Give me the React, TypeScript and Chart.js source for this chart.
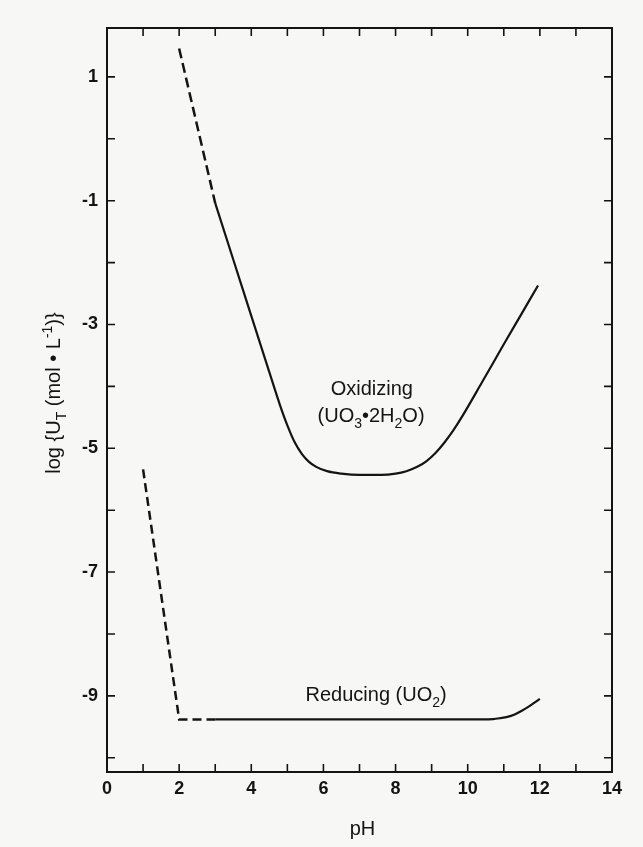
import React, { useEffect, useRef } from 'react';
import { Chart, registerables } from 'chart.js';

Chart.register(...registerables);

// ---- data ----
const oxidizingDashedPH = [2.0, 3.0];
const oxidizingDashedLogU = [1.46, -1.04];

const oxidizingPH = [3.0, 3.5, 4.0, 4.5, 4.8, 5.0, 5.2, 5.4, 5.6, 5.8, 6.1, 6.5, 7.0, 7.6, 8.0, 8.3, 8.6, 8.85, 9.1, 9.35, 9.6, 9.8, 10.4, 11.0, 11.5, 11.95];
const oxidizingLogU = [-1.04, -1.95, -2.86, -3.77, -4.31, -4.63, -4.9, -5.09, -5.22, -5.3, -5.37, -5.41, -5.43, -5.43, -5.41, -5.37, -5.3, -5.21, -5.08, -4.91, -4.71, -4.53, -3.93, -3.32, -2.82, -2.37];

const reducingDashedPH = [1.0, 2.0, 3.0];
const reducingDashedLogU = [-5.34, -9.38, -9.38];

const reducingPH = [3.0, 6.0, 9.0, 10.4, 10.7, 10.9, 11.1, 11.3, 11.5, 11.7, 11.85, 12.0];
const reducingLogU = [-9.38, -9.38, -9.38, -9.38, -9.375, -9.36, -9.34, -9.3, -9.24, -9.17, -9.11, -9.05];

const xTickLabels = [0, 2, 4, 6, 8, 10, 12, 14];
const yTickLabels = [1, -1, -3, -5, -7, -9];

const X_MIN = 0;
const X_MAX = 14;
const Y_MIN = -10.23;
const Y_MAX = 1.79;

const FONT = '"Liberation Sans", Arial, Helvetica, sans-serif';
const INK = '#141414';
const BG = '#f7f7f5';

type Seg = { t: string; m?: 'sub' | 'sup' };

const oxidizingLabel: Seg[] = [{ t: 'Oxidizing' }];
const oxidizingFormula: Seg[] = [{ t: '(UO' }, { t: '3', m: 'sub' }, { t: '\u20222H' }, { t: '2', m: 'sub' }, { t: 'O)' }];
const reducingLabel: Seg[] = [{ t: 'Reducing (UO' }, { t: '2', m: 'sub' }, { t: ')' }];
const yTitle: Seg[] = [{ t: 'log {U' }, { t: 'T', m: 'sub' }, { t: ' (mol \u2022 L' }, { t: '-1', m: 'sup' }, { t: ')}' }];
const xTitle: Seg[] = [{ t: 'pH' }];

const toPts = (xs: number[], ys: number[]) => xs.map((x, i) => ({ x, y: ys[i] }));

function drawRich(ctx: CanvasRenderingContext2D, segs: Seg[], cx: number, baseY: number, size: number, weight = 'normal') {
  const small = Math.round(size * 0.7);
  const widths = segs.map((s) => {
    ctx.font = `${weight} ${s.m ? small : size}px ${FONT}`;
    return ctx.measureText(s.t).width;
  });
  const total = widths.reduce((a, b) => a + b, 0);
  let x = cx - total / 2;
  ctx.textBaseline = 'alphabetic';
  ctx.textAlign = 'left';
  segs.forEach((s, i) => {
    ctx.font = `${weight} ${s.m ? small : size}px ${FONT}`;
    const dy = s.m === 'sub' ? size * 0.3 : s.m === 'sup' ? -size * 0.42 : 0;
    ctx.fillText(s.t, x, baseY + dy);
    x += widths[i];
  });
}

const framePlugin = {
  id: 'frameAndTicks',
  afterDatasetsDraw(chart: any) {
    const { ctx, chartArea, scales } = chart;
    const { left, right, top, bottom } = chartArea;
    const xs = scales.x;
    const ys = scales.y;
    ctx.save();
    ctx.strokeStyle = INK;
    ctx.lineWidth = 2;
    ctx.strokeRect(left, top, right - left, bottom - top);
    ctx.lineWidth = 1.6;
    const tl = 8;
    ctx.beginPath();
    xs.ticks.forEach((t: any) => {
      const px = xs.getPixelForValue(t.value);
      if (px <= left + 1 || px >= right - 1) return;
      ctx.moveTo(px, bottom);
      ctx.lineTo(px, bottom - tl);
      ctx.moveTo(px, top);
      ctx.lineTo(px, top + tl);
    });
    ys.ticks.forEach((t: any) => {
      const py = ys.getPixelForValue(t.value);
      if (py <= top + 1 || py >= bottom - 1) return;
      ctx.moveTo(left, py);
      ctx.lineTo(left + tl, py);
      ctx.moveTo(right, py);
      ctx.lineTo(right - tl, py);
    });
    ctx.stroke();

    // annotations and axis titles
    ctx.fillStyle = INK;
    drawRich(ctx, oxidizingLabel, xs.getPixelForValue(7.34), ys.getPixelForValue(-4.14), 20);
    drawRich(ctx, oxidizingFormula, xs.getPixelForValue(7.32), ys.getPixelForValue(-4.57), 20);
    drawRich(ctx, reducingLabel, xs.getPixelForValue(7.46), ys.getPixelForValue(-9.09), 20);
    drawRich(ctx, xTitle, (left + right) / 2 + 3, bottom + 63, 20);

    ctx.save();
    ctx.translate(60, (top + bottom) / 2 - 7);
    ctx.rotate(-Math.PI / 2);
    drawRich(ctx, yTitle, 0, 0, 20);
    ctx.restore();

    ctx.restore();
  },
};

export default function App() {
  const canvasRef = useRef<HTMLCanvasElement | null>(null);

  useEffect(() => {
    const canvas = canvasRef.current;
    if (!canvas) return;
    const chart = new Chart(canvas, {
      type: 'line',
      data: {
        datasets: [
          {
            label: 'Oxidizing (extrapolated)',
            data: toPts(oxidizingDashedPH, oxidizingDashedLogU),
            borderColor: INK,
            borderWidth: 2.5,
            borderDash: [10, 5],
            pointRadius: 0,
            tension: 0,
          },
          {
            label: 'Oxidizing (UO3·2H2O)',
            data: toPts(oxidizingPH, oxidizingLogU),
            borderColor: INK,
            borderWidth: 2.2,
            pointRadius: 0,
            cubicInterpolationMode: 'monotone',
          },
          {
            label: 'Reducing (extrapolated)',
            data: toPts(reducingDashedPH, reducingDashedLogU),
            borderColor: INK,
            borderWidth: 2.5,
            borderDash: [9, 5],
            pointRadius: 0,
            tension: 0,
          },
          {
            label: 'Reducing (UO2)',
            data: toPts(reducingPH, reducingLogU),
            borderColor: INK,
            borderWidth: 2.2,
            pointRadius: 0,
            cubicInterpolationMode: 'monotone',
          },
        ],
      },
      options: {
        responsive: false,
        animation: false,
        layout: { padding: { left: 0, top: 28, right: 31, bottom: 0 } },
        plugins: {
          legend: { display: false },
          tooltip: { enabled: false },
        },
        scales: {
          x: {
            type: 'linear',
            min: X_MIN,
            max: X_MAX,
            afterFit: (s: any) => {
              s.height = 75;
            },
            grid: { drawOnChartArea: false, drawTicks: false },
            border: { display: false },
            ticks: {
              stepSize: 1,
              autoSkip: false,
              maxRotation: 0,
              padding: 6,
              color: INK,
              font: { family: FONT, size: 18, weight: 'bold' },
              callback: (v: any) => (xTickLabels.includes(Number(v)) ? String(v) : ''),
            },
          },
          y: {
            type: 'linear',
            min: Y_MIN,
            max: Y_MAX,
            afterFit: (s: any) => {
              s.width = 107;
            },
            grid: { drawOnChartArea: false, drawTicks: false },
            border: { display: false },
            ticks: {
              stepSize: 1,
              includeBounds: false,
              autoSkip: false,
              padding: 9,
              color: INK,
              font: { family: FONT, size: 18, weight: 'bold' },
              callback: (v: any) => (yTickLabels.includes(Math.round(Number(v) * 100) / 100) ? String(v) : ''),
            },
          },
        },
      },
      plugins: [framePlugin],
    } as any);
    return () => chart.destroy();
  }, []);

  return (
    <div style={{ position: 'absolute', left: 0, top: 0, width: 643, height: 847, background: BG }}>
      <canvas ref={canvasRef} width={643} height={847} style={{ display: 'block' }} />
    </div>
  );
}
